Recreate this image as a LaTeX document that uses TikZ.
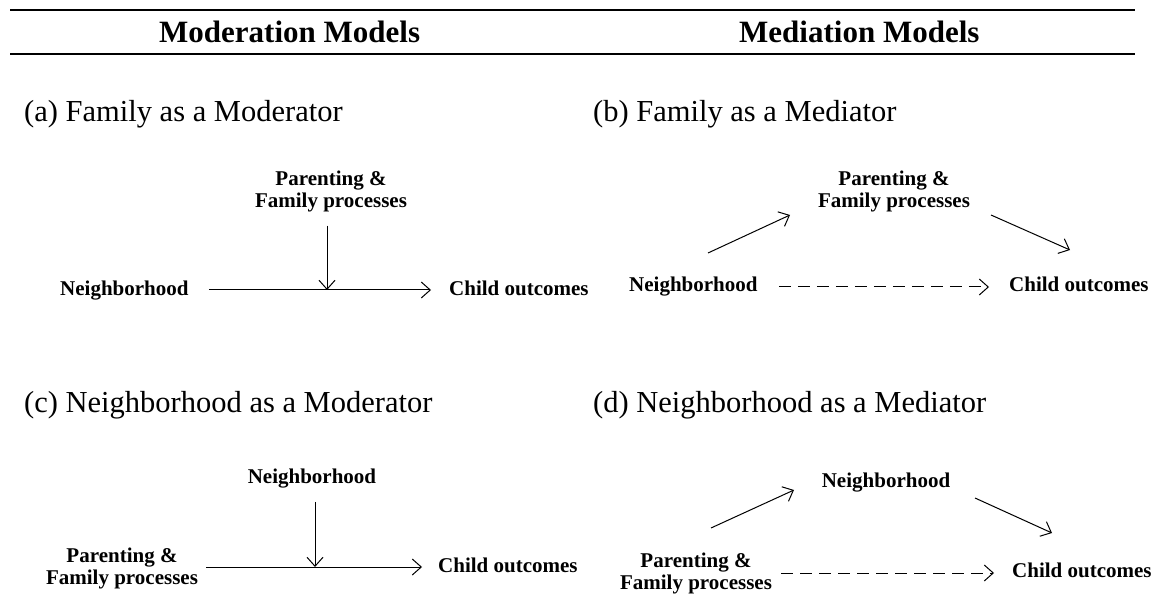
\documentclass[tikz,border=0pt]{standalone}
\usepackage{fontspec}
\setmainfont{Liberation Serif}
\usetikzlibrary{arrows.meta}
\usetikzlibrary{positioning}

\tikzset{
	hd/.style={font=\bfseries\fontsize{31}{34}\selectfont, anchor=base west, inner sep=0},
	sub/.style={font=\fontsize{30.5}{34}\selectfont, anchor=base west, inner sep=0},
	var/.style={font=\bfseries\fontsize{21}{22}\selectfont, align=center, inner sep=0},
	arr/.style={-{Straight Barb[length=9pt,width=16pt]}, line width=1pt},
	dsh/.style={arr, dash pattern=on 12pt off 7pt},
	rule/.style={line width=2.2pt},
}

\begin{document}
\begin{tikzpicture}[x=1pt,y=-1pt]
	\useasboundingbox (0,0) rectangle (1168,596);
	% header
	\coordinate (rl) at (10,10);
	\coordinate (rr) at (1135,10);
	\draw[rule] (rl) -- (rr);
	\draw[rule] ([yshift=-44pt]rl) -- ([yshift=-44pt]rr);
	\node[hd] (hmod) at (159,43) {Moderation Models};
	\node[hd] (hmed) at (739,43) {Mediation Models};

	% (a)
	\node[sub] (suba) at (24,122) {(a) Family as a Moderator};
	\node[var, anchor=base west] (na) at (60,295) {Neighborhood};
	\node[var, anchor=base west] (ca) at (449,295) {Child outcomes};
	\node[var, anchor=north] (pa) at (331,171) {Parenting \&\\Family processes};
	\coordinate (ja) at (327,290);
	\draw[arr, shorten <=20pt, shorten >=18pt] (na.east |- ja) -- (ja -| ca.west);
	\draw[arr, shorten <=13pt] (pa.south -| ja) -- (ja);

	% (b)
	\node[sub] (subb) at (593,122) {(b) Family as a Mediator};
	\node[var, anchor=base west] (nb) at (629,292) {Neighborhood};
	\node[var, anchor=base west] (cb) at (1009,292) {Child outcomes};
	\node[var, anchor=north] (pb) at (894,171) {Parenting \&\\Family processes};
	\draw[dsh, shorten <=21pt, shorten >=20pt] (nb.east |- 0,287) -- (cb.west |- 0,287);
	\coordinate (b1) at (708,253);
	\coordinate (b2) at (790,215);
	\coordinate (b3) at (991,215);
	\coordinate (b4) at (1070,250);
	\draw[arr] (b1) -- (b2);
	\draw[arr] (b3) -- (b4);

	% (c)
	\node[sub] (subc) at (24,412) {(c) Neighborhood as a Moderator};
	\node[var, anchor=base] (nc) at (312,483) {Neighborhood};
	\node[var, anchor=north] (pc) at (122,548) {Parenting \&\\Family processes};
	\node[var, anchor=base west] (cc) at (438,572) {Child outcomes};
	\coordinate (jc) at (315,567);
	\draw[arr, shorten <=8pt, shorten >=16pt] (pc.east |- jc) -- (jc -| cc.west);
	\draw[arr, shorten <=14pt] (nc.south -| jc) -- (jc);

	% (d)
	\node[sub] (subd) at (593,412) {(d) Neighborhood as a Mediator};
	\node[var, anchor=base] (nd) at (886,487) {Neighborhood};
	\node[var, anchor=north] (pd) at (696,553) {Parenting \&\\Family processes};
	\node[var, anchor=base west] (cd) at (1012,577) {Child outcomes};
	\draw[dsh, shorten <=9pt, shorten >=18pt] (pd.east |- 0,573) -- (cd.west |- 0,573);
	\coordinate (d1) at (711,528);
	\coordinate (d2) at (794,490);
	\coordinate (d3) at (975,498);
	\coordinate (d4) at (1052,533);
	\draw[arr] (d1) -- (d2);
	\draw[arr] (d3) -- (d4);
\end{tikzpicture}
\end{document}
